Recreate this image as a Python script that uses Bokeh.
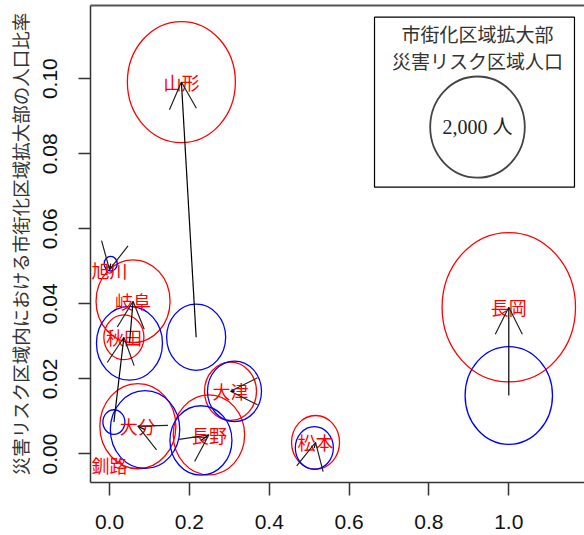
import numpy as np
from bokeh.plotting import figure
from bokeh.models import (Range1d, FixedTicker, PrintfTickFormatter, LinearAxis,
                          Arrow, OpenHead, ColumnDataSource)
from bokeh.core.properties import value
from bokeh.embed import file_html
from bokeh.resources import INLINE

# Cities: position after expansion (red) and before (blue)
cities = ["山形", "長岡", "旭川", "岐阜", "秋田", "大津", "大分", "長野", "松本", "釧路"]
x_after = [0.180, 1.000, 0.000, 0.059, 0.036, 0.303, 0.071, 0.249, 0.516, 0.000]
y_after = [0.0991, 0.0391, 0.0491, 0.0407, 0.0311, 0.0167, 0.0074, 0.0051, 0.0031, -0.0030]
x_before = [0.217, 1.000, 0.003, 0.050, 0.011, 0.313, 0.089, 0.229, 0.513, 0.000]
y_before = [0.0311, 0.0156, 0.0507, 0.0295, 0.0085, 0.0167, 0.0065, 0.0036, 0.0016, -0.0030]
# population in the disaster-risk zone inside the expanded urbanisation area
pop_after = [2606, 3977, 8, 1224, 358, 604, 1291, 1139, 515, 0]
pop_before = [778, 1707, 38, 973, 108, 652, 1076, 859, 323, 0]

legend_pop = 2000
legend_title = ["市街化区域拡大部", "災害リスク区域人口"]
legend_label = "2,000 人"

x_ticks = [0.0, 0.2, 0.4, 0.6, 0.8, 1.0]
y_ticks = [0.00, 0.02, 0.04, 0.06, 0.08, 0.10]
y_title = "災害リスク区域内における市街化区域拡大部の人口比率"

# circle radius in pixels per sqrt(person), and vertical stretch of the device
K = 1.0577
ASPECT = 1.12

JP = "Noto Sans CJK JP"

p = figure(width=584, height=535, output_backend="svg", toolbar_location=None,
           x_range=Range1d(-0.0476, 1.1896), y_range=Range1d(-0.0076, 0.1195),
           min_border_left=90, min_border_right=0, min_border_top=5,
           min_border_bottom=53)
p.outline_line_color = None
p.xgrid.visible = False
p.ygrid.visible = False
p.background_fill_color = "white"
p.border_fill_color = "white"

# x axis
xa = p.xaxis[0]
xa.ticker = FixedTicker(ticks=x_ticks)
xa.formatter = PrintfTickFormatter(format="%.1f")
xa.minor_tick_line_color = None
xa.major_tick_in = 0
xa.major_tick_out = 13
xa.major_label_standoff = 19
xa.major_label_text_font = "Liberation Sans"
xa.major_label_text_font_size = "21px"
xa.major_label_text_color = "#111111"
xa.axis_line_color = "#333333"
xa.axis_line_width = 1.5
xa.major_tick_line_color = "#333333"
xa.major_tick_line_width = 1.5

# y axis
ya = p.yaxis[0]
ya.ticker = FixedTicker(ticks=y_ticks)
ya.formatter = PrintfTickFormatter(format="%.2f")
ya.minor_tick_line_color = None
ya.major_tick_in = 0
ya.major_tick_out = 12
ya.major_label_standoff = 21
ya.major_label_orientation = "vertical"
ya.major_label_text_font = "Liberation Sans"
ya.major_label_text_font_size = "21px"
ya.major_label_text_color = "#111111"
ya.axis_line_color = "#333333"
ya.axis_line_width = 1.5
ya.major_tick_line_color = "#333333"
ya.major_tick_line_width = 1.5
ya.axis_label = y_title
ya.axis_label_text_font = JP
ya.axis_label_text_font_size = "18.5px"
ya.axis_label_text_font_style = "normal"
ya.axis_label_text_color = "#333333"
ya.axis_label_standoff = 8

# top edge of the box
top = LinearAxis(ticker=FixedTicker(ticks=[]), axis_line_color="#555555",
                 axis_line_width=2, major_tick_out=0, major_tick_in=0,
                 minor_tick_line_color=None, major_label_standoff=0)
p.add_layout(top, "above")


def radius(pop):
    return K * np.sqrt(np.asarray(pop, dtype=float))


def circle_source(xs, ys, pops):
    r = radius(pops)
    keep = r > 0
    return ColumnDataSource(dict(x=np.asarray(xs)[keep], y=np.asarray(ys)[keep],
                                 w=2 * r[keep], h=2 * r[keep] * ASPECT))


red = circle_source(x_after, y_after, pop_after)
blue = circle_source(x_before, y_before, pop_before)

p.ellipse("x", "y", width="w", height="h", width_units="screen", height_units="screen",
          source=red, fill_color=None, line_color="#FF0000", line_width=1.3)
p.ellipse("x", "y", width="w", height="h", width_units="screen", height_units="screen",
          source=blue, fill_color=None, line_color="#0000FF", line_width=1.3)

# city names at the "after" position
p.text(x=x_after, y=y_after, text=cities, text_font=value(JP), text_font_size="18px",
       text_color="#FF0000", text_align="center", text_baseline="middle")

# arrows from before to after (zero-length ones are skipped)
moves = [(xb, yb, xa_, ya_) for xb, yb, xa_, ya_ in zip(x_before, y_before, x_after, y_after)
         if (xb, yb) != (xa_, ya_)]
arr_src = ColumnDataSource(dict(xs=[m[0] for m in moves], ys=[m[1] for m in moves],
                                xe=[m[2] for m in moves], ye=[m[3] for m in moves]))
p.add_layout(Arrow(x_start="xs", y_start="ys", x_end="xe", y_end="ye", source=arr_src,
                   line_color="black", line_width=1.2,
                   end=OpenHead(size=27, line_color="#222222", line_width=1.2)))

# size key
lx0, lx1, ly0, ly1 = 0.6637, 1.1645, 0.0711, 0.1164
p.quad(left=[lx0], right=[lx1], bottom=[ly0], top=[ly1], fill_color="white",
       line_color="black", line_width=1.2)
lcx = (lx0 + lx1) / 2 + 0.0075
p.text(x=[lcx, lcx], y=[0.11213, 0.10493], text=legend_title, text_font=value(JP),
       text_font_size="19px", text_color="#333333", text_align="center",
       text_baseline="middle")
lr = float(radius([legend_pop])[0])
p.ellipse(x=[lcx], y=[0.0871], width=[2 * lr], height=[2 * lr * 1.07],
          width_units="screen", height_units="screen", fill_color=None,
          line_color="#444444", line_width=1.8)
p.text(x=[lcx], y=[0.0871], text=[legend_label],
       text_font=value("Liberation Serif, Noto Sans CJK JP"), text_font_size="20px",
       text_color="#222222", text_align="center", text_baseline="middle")

open("out.html", "w").write(file_html(p, INLINE))
